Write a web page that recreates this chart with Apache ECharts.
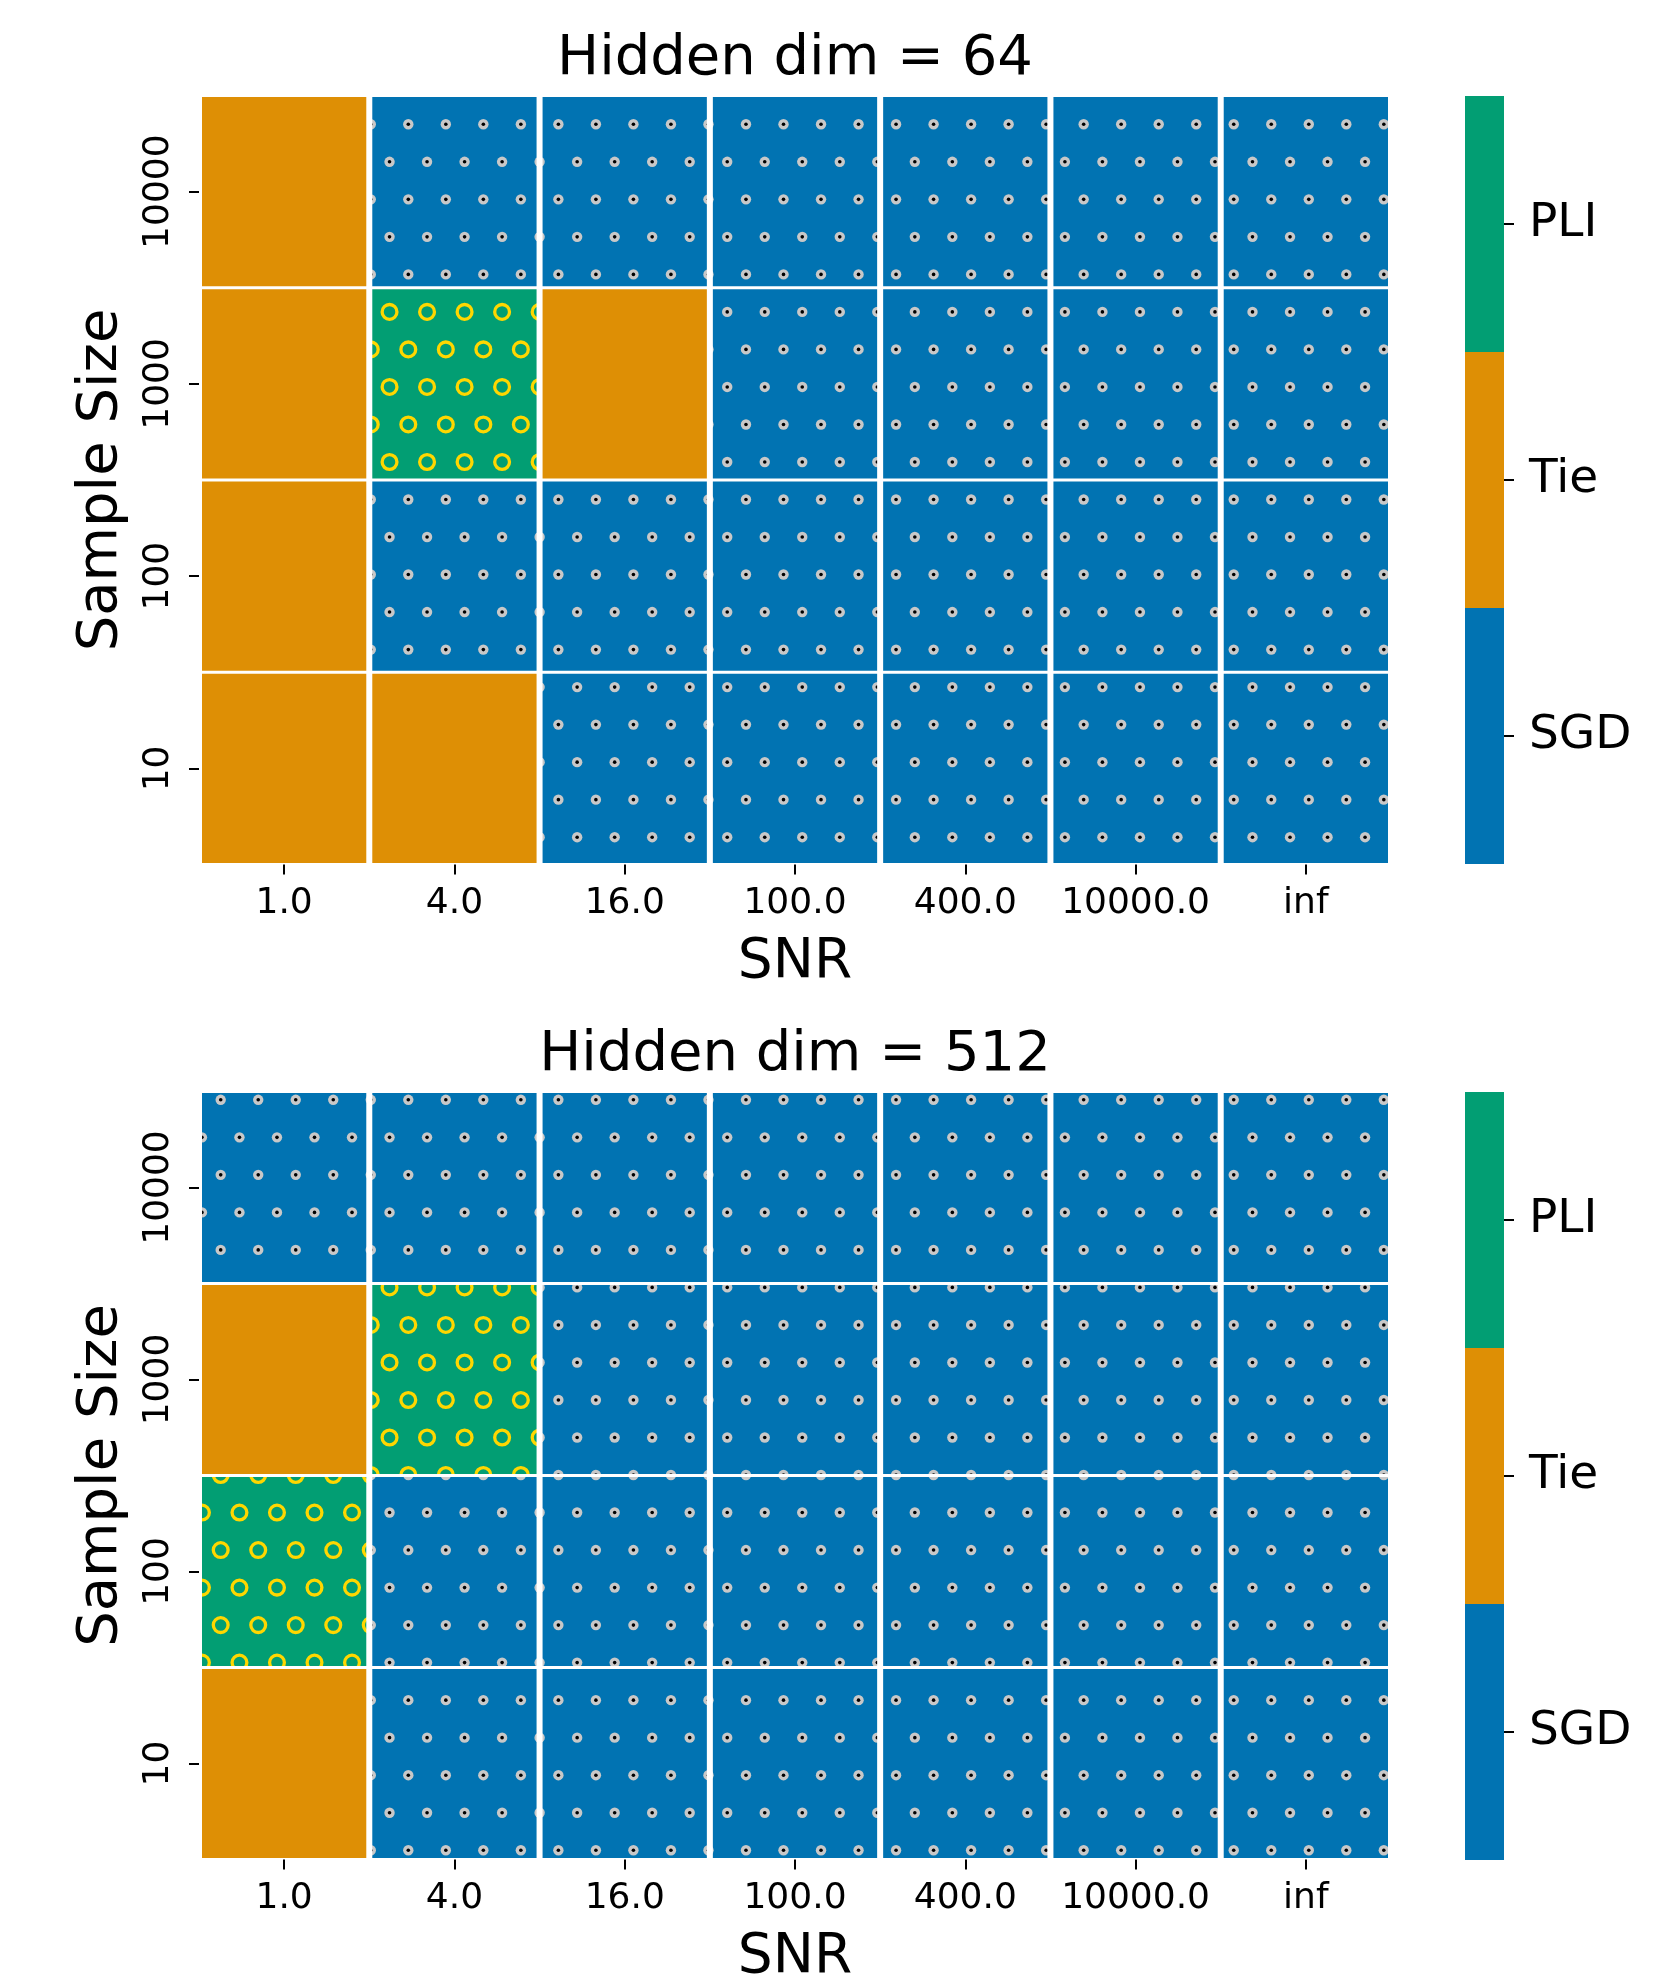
<!DOCTYPE html>
<html><head><meta charset="utf-8">
<script src="https://cdn.jsdelivr.net/npm/echarts@6/dist/echarts.min.js"></script>
<style>html,body{margin:0;padding:0;background:#fff}#c{width:1653px;height:1976px}</style>
</head><body><div id="c"></div>
<script>
// ---- data ----
const snrLabels = ['1.0', '4.0', '16.0', '100.0', '400.0', '10000.0', 'inf'];
const sampleSizeLabels = ['10', '100', '1000', '10000']; // bottom -> top
const classLabels = ['SGD', 'Tie', 'PLI'];
const panelTitles = ['Hidden dim = 64', 'Hidden dim = 512'];
// rows listed from top (10000) to bottom (10)
const winnersDim64 = [
  ['Tie', 'SGD', 'SGD', 'SGD', 'SGD', 'SGD', 'SGD'],
  ['Tie', 'PLI', 'Tie', 'SGD', 'SGD', 'SGD', 'SGD'],
  ['Tie', 'SGD', 'SGD', 'SGD', 'SGD', 'SGD', 'SGD'],
  ['Tie', 'Tie', 'SGD', 'SGD', 'SGD', 'SGD', 'SGD']
];
const winnersDim512 = [
  ['SGD', 'SGD', 'SGD', 'SGD', 'SGD', 'SGD', 'SGD'],
  ['Tie', 'PLI', 'SGD', 'SGD', 'SGD', 'SGD', 'SGD'],
  ['PLI', 'SGD', 'SGD', 'SGD', 'SGD', 'SGD', 'SGD'],
  ['Tie', 'SGD', 'SGD', 'SGD', 'SGD', 'SGD', 'SGD']
];

// ---- styles ----
const FONT = 'DejaVu Sans';
const COLORS = { SGD: '#0173b2', Tie: '#de8f05', PLI: '#029e73' };
const W = 1653, H = 1976;

function makePattern(bg, drawMark) {
  const cv = document.createElement('canvas');
  cv.width = W; cv.height = H;
  const ctx = cv.getContext('2d');
  ctx.fillStyle = bg; ctx.fillRect(0, 0, W, H);
  const P = 37.52, x0 = 408.3, y0 = 124.3;
  for (let k = -5; k < 56; k++) {
    const y = y0 + k * P;
    const off = (Math.abs(k) % 2 === 1) ? -P / 2 : 0;
    for (let j = -12; j < 36; j++) {
      drawMark(ctx, x0 + off + j * P, y);
    }
  }
  return { image: cv, repeat: 'no-repeat' };
}
const fills = {
  SGD: makePattern(COLORS.SGD, (ctx, x, y) => {
    ctx.fillStyle = '#c8c8c8';
    ctx.beginPath(); ctx.arc(x, y, 5.2, 0, Math.PI * 2); ctx.fill();
    ctx.fillStyle = '#000';
    ctx.beginPath(); ctx.arc(x, y, 1.8, 0, Math.PI * 2); ctx.fill();
  }),
  PLI: makePattern(COLORS.PLI, (ctx, x, y) => {
    ctx.strokeStyle = '#ffd700'; ctx.lineWidth = 3.3;
    ctx.beginPath(); ctx.arc(x, y, 7.4, 0, Math.PI * 2); ctx.stroke();
  }),
  Tie: COLORS.Tie
};

function toCells(rows) {
  const out = [];
  rows.forEach((row, r) => {
    const yIdx = sampleSizeLabels.length - 1 - r;
    row.forEach((cls, c) => out.push([c, yIdx, classLabels.indexOf(cls)]));
  });
  return out;
}

function renderCell(params, api) {
  const c = api.coord([api.value(0), api.value(1)]);
  const s = api.size([1, 1]);
  const cls = classLabels[api.value(2)];
  return {
    type: 'rect',
    shape: { x: c[0] - s[0] / 2 + 3, y: c[1] - s[1] / 2 + 1.5, width: s[0] - 6, height: s[1] - 3 },
    style: { fill: fills[cls] }
  };
}
function renderBar(params, api) {
  const c = api.coord([api.value(0), api.value(1)]);
  const s = api.size([1, 1]);
  return {
    type: 'rect',
    shape: { x: c[0] - s[0] / 2, y: c[1] - s[1] / 2, width: s[0], height: s[1] },
    style: { fill: COLORS[classLabels[api.value(1)]] }
  };
}

const heatGrids = [
  { left: 199, width: 1192, top: 95.5, height: 769, outerBoundsMode: 'none', containLabel: false },
  { left: 199, width: 1192, top: 1091.5, height: 768, outerBoundsMode: 'none', containLabel: false }
];
const barGrids = [
  { left: 1465, width: 39, top: 96, height: 768, outerBoundsMode: 'none', containLabel: false },
  { left: 1465, width: 39, top: 1092, height: 768, outerBoundsMode: 'none', containLabel: false }
];
const titleTops = [31, 1027];

const tick = { show: true, length: 10, interval: 0, lineStyle: { color: '#000', width: 2 } };
const option = {
  animation: false,
  backgroundColor: '#fff',
  title: panelTitles.map((t, i) => ({
    text: t, left: 795, top: titleTops[i], textAlign: 'center', padding: 0,
    textStyle: { fontFamily: FONT, fontSize: 56, fontWeight: 'normal', color: '#000' }
  })),
  grid: heatGrids.concat(barGrids),
  xAxis: [0, 1].map(i => ({
    type: 'category', gridIndex: i, data: snrLabels,
    name: 'SNR', nameLocation: 'middle', nameGap: 71,
    nameTextStyle: { fontFamily: FONT, fontSize: 55, color: '#000' },
    axisLine: { show: false }, axisTick: Object.assign({ alignWithLabel: true }, tick),
    axisLabel: { fontFamily: FONT, fontSize: 36, color: '#000', margin: 21, interval: 0, hideOverlap: false },
    splitLine: { show: false }
  })).concat([2, 3].map(i => ({
    type: 'category', gridIndex: i, data: [''], show: false
  }))),
  yAxis: [0, 1].map(i => ({
    type: 'category', gridIndex: i, data: sampleSizeLabels,
    name: 'Sample Size', nameLocation: 'middle', nameGap: 70,
    nameTextStyle: { fontFamily: FONT, fontSize: 56, color: '#000' },
    axisLine: { show: false }, axisTick: Object.assign({ alignWithLabel: true }, tick),
    axisLabel: { fontFamily: FONT, fontSize: 36, color: '#000', margin: 22, rotate: 90, interval: 0 },
    splitLine: { show: false }
  })).concat([2, 3].map(i => ({
    type: 'category', gridIndex: i, data: classLabels, position: 'right',
    axisLine: { show: false }, axisTick: Object.assign({ alignWithLabel: true }, tick),
    axisLabel: { fontFamily: FONT, fontSize: 47, color: '#000', margin: 25, interval: 0, padding: [10, 0, 0, 0] },
    splitLine: { show: false }
  }))),
  series: [
    { type: 'custom', xAxisIndex: 0, yAxisIndex: 0, silent: true, renderItem: renderCell,
      encode: { x: 0, y: 1 }, data: toCells(winnersDim64) },
    { type: 'custom', xAxisIndex: 1, yAxisIndex: 1, silent: true, renderItem: renderCell,
      encode: { x: 0, y: 1 }, data: toCells(winnersDim512) },
    { type: 'custom', xAxisIndex: 2, yAxisIndex: 2, silent: true, renderItem: renderBar,
      encode: { x: 0, y: 1 }, data: classLabels.map((c, i) => [0, i]) },
    { type: 'custom', xAxisIndex: 3, yAxisIndex: 3, silent: true, renderItem: renderBar,
      encode: { x: 0, y: 1 }, data: classLabels.map((c, i) => [0, i]) }
  ]
};
const chart = echarts.init(document.getElementById('c'), null, { renderer: 'canvas' });
chart.setOption(option);
</script>
</body></html>
